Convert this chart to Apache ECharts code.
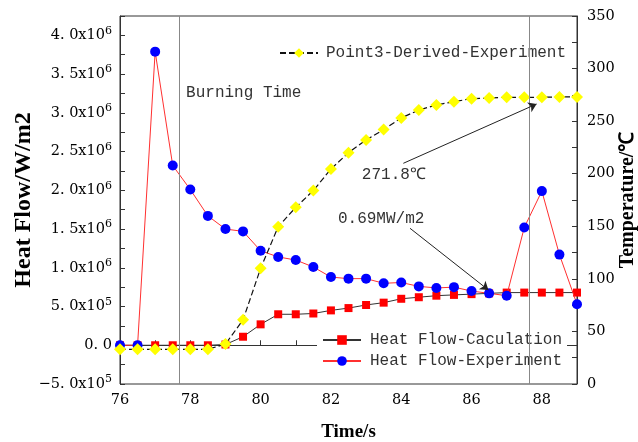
<!DOCTYPE html>
<html>
<head>
<meta charset="utf-8">
<script src="https://cdn.jsdelivr.net/npm/echarts@6/dist/echarts.min.js"></script>
<style>
  html, body { margin: 0; padding: 0; background: #fff; }
  #main { width: 638px; height: 442px; }
</style>
</head>
<body>
<div id="main"></div>
<script>
// 时间 (s)
var times = [76, 76.5, 77, 77.5, 78, 78.5, 79, 79.5, 80, 80.5, 81, 81.5, 82, 82.5, 83,
             83.5, 84, 84.5, 85, 85.5, 86, 86.5, 87, 87.5, 88, 88.5, 89];
// 热流 计算值 (W/m2)
var calcFlow = [0, 0, 0, 0, 0, 0, 0.01e6, 0.11e6, 0.27e6, 0.40e6, 0.40e6, 0.41e6, 0.45e6, 0.48e6,
                0.52e6, 0.55e6, 0.60e6, 0.62e6, 0.64e6, 0.65e6, 0.66e6, 0.67e6, 0.68e6, 0.68e6,
                0.68e6, 0.68e6, 0.68e6];
// 热流 实验值 (W/m2)
var expFlow = [0, 0, 3.79e6, 2.32e6, 2.01e6, 1.67e6, 1.50e6, 1.47e6, 1.22e6, 1.14e6, 1.10e6,
               1.01e6, 0.88e6, 0.86e6, 0.86e6, 0.80e6, 0.81e6, 0.76e6, 0.74e6, 0.75e6, 0.70e6,
               0.67e6, 0.64e6, 1.52e6, 1.99e6, 1.17e6, 0.53e6];
// 温度 (℃)
var temps = [33, 33, 33, 33, 33, 33, 38, 61, 110, 149.6, 168, 184, 204.5, 220, 232, 242, 253,
             260.6, 265.4, 268.5, 271.4, 272, 272.7, 272.7, 272.7, 273, 273];

var names = ['Heat Flow-Caculation', 'Heat Flow-Experiment', 'Point3-Derived-Experiment'];

function pairs(ys) {
    var out = [];
    for (var i = 0; i < times.length; i++) out.push([times[i], ys[i]]);
    return out;
}

var tickFont = 'DejaVu Serif';
var monoFont = 'Liberation Mono';

var myChart = echarts.init(document.getElementById('main'));

var option = {
    animation: false,
    backgroundColor: '#fff',
    grid: {
        left: 120, right: 61, top: 16, bottom: 58,
        show: true, borderColor: '#333', borderWidth: 1,
        outerBoundsMode: 'none'
    },
    legend: [{
        data: [names[2]],
        left: 274, top: 40,
        itemWidth: 38, itemHeight: 12,
        textStyle: { fontFamily: monoFont, fontSize: 16, color: '#333', padding: [0, 0, 0, 3] }
    }, {
        data: [names[0], names[1]],
        orient: 'vertical',
        left: 317, top: 328,
        padding: [4, 5, 3, 5],
        itemGap: 5,
        itemWidth: 38, itemHeight: 12,
        backgroundColor: '#fff',
        textStyle: { fontFamily: monoFont, fontSize: 16, lineHeight: 16, color: '#333', padding: [0, 0, 0, 4] }
    }],
    xAxis: {
        type: 'value',
        min: 76, max: 89, interval: 1,
        name: 'Time/s',
        nameLocation: 'middle',
        nameGap: 39,
        nameMoveOverlap: false,
        nameTextStyle: { fontFamily: 'Liberation Serif', fontWeight: 'bold', fontSize: 19, color: '#000' },
        axisLine: { lineStyle: { color: '#333' } },
        axisTick: { inside: true, length: 5, lineStyle: { color: '#333' } },
        splitLine: { show: false },
        axisLabel: {
            interval: 0, margin: 9,
            fontFamily: tickFont, fontSize: 14.5, color: '#000',
            formatter: function (v) { return v % 2 === 0 ? String(v) : ''; }
        }
    },
    yAxis: [{
        type: 'value',
        min: -0.5e6, max: 4.25e6, interval: 0.25e6,
        name: 'Heat Flow/W/m2',
        nameLocation: 'middle', nameRotate: 90,
        nameGap: 84,
        nameMoveOverlap: false,
        nameTextStyle: { fontFamily: 'Liberation Serif', fontWeight: 'bold', fontSize: 24, color: '#000' },
        axisLine: { show: true, lineStyle: { color: '#333' } },
        axisTick: { show: true, inside: true, length: 5, lineStyle: { color: '#333' } },
        splitLine: { show: false },
        axisLabel: {
            margin: 8,
            fontFamily: tickFont, fontSize: 14.5, color: '#000',
            formatter: function (v) {
                var k = v / 0.5e6;
                if (Math.abs(k - Math.round(k)) > 1e-6) return '';
                if (v === 0) return '0. 0';
                var e = Math.abs(v) >= 1e6 ? 6 : 5;
                var m = (v / Math.pow(10, e)).toFixed(1).replace('.', '. ').replace('-', '\u2212');
                return m + 'x10{s|' + e + '}';
            },
            rich: {
                s: { fontFamily: tickFont, fontSize: 11, color: '#000', padding: [0, 0, 9, 0] }
            }
        }
    }, {
        type: 'value',
        min: 0, max: 350, interval: 25,
        name: 'Temperature/℃',
        nameLocation: 'middle', nameRotate: 90,
        nameGap: 41,
        nameMoveOverlap: false,
        nameTextStyle: { fontFamily: 'Liberation Serif', fontWeight: 'bold', fontSize: 20, color: '#000' },
        axisLine: { show: true, lineStyle: { color: '#333' } },
        axisTick: { show: true, inside: true, length: 5, lineStyle: { color: '#333' } },
        splitLine: { show: false },
        axisLabel: {
            margin: 10,
            fontFamily: tickFont, fontSize: 14.5, color: '#000',
            formatter: function (v) { return v % 50 === 0 ? String(v) : ''; }
        }
    }],
    series: [{
        name: names[0],
        type: 'line',
        yAxisIndex: 0,
        data: pairs(calcFlow),
        symbol: 'rect', symbolSize: 8,
        clip: false,
        z: 2,
        itemStyle: { color: '#ff0000' },
        lineStyle: { color: '#333', width: 1 }
    }, {
        name: names[1],
        type: 'line',
        yAxisIndex: 0,
        data: pairs(expFlow),
        symbol: 'circle', symbolSize: 10,
        clip: false,
        z: 3,
        itemStyle: { color: '#0000ff' },
        lineStyle: { color: '#ff3030', width: 1 },
        // Burning Time 竖线
        markLine: {
            silent: true,
            symbol: 'none',
            label: { show: false },
            lineStyle: { color: '#888', width: 1, type: 'solid' },
            data: [{ xAxis: 77.68 }, { xAxis: 87.63 }]
        }
    }, {
        name: names[2],
        type: 'line',
        yAxisIndex: 1,
        data: pairs(temps),
        symbol: 'diamond', symbolSize: 12,
        clip: false,
        z: 4,
        itemStyle: { color: '#ffff00' },
        lineStyle: { color: '#111', width: 1.2, type: [6, 3] },
        // 箭头
        markLine: {
            silent: true,
            symbol: ['none', 'arrow'],
            symbolSize: 8,
            label: { show: false },
            lineStyle: { color: '#222', width: 1, type: 'solid' },
            data: [
                [{ coord: [84.06, 209.9] }, { coord: [87.85, 266.3] }],
                [{ coord: [84.25, 148.1] }, { coord: [86.48, 89.4] }]
            ]
        },
        // 注释文字
        markPoint: {
            silent: true,
            symbol: 'circle', symbolSize: 0,
            label: {
                show: true, position: 'right', distance: 0,
                fontFamily: monoFont, fontSize: 16, color: '#333',
                formatter: function (p) { return p.name; }
            },
            data: [
                { name: 'Burning Time', coord: [77.88, 277.3] },
                { name: '271.8℃', coord: [82.88, 198.8] },
                { name: '0.69MW/m2', coord: [82.2, 157.6] }
            ]
        }
    }]
};

// 使用刚指定的配置项和数据显示图表。
myChart.setOption(option);
</script>
</body>
</html>
